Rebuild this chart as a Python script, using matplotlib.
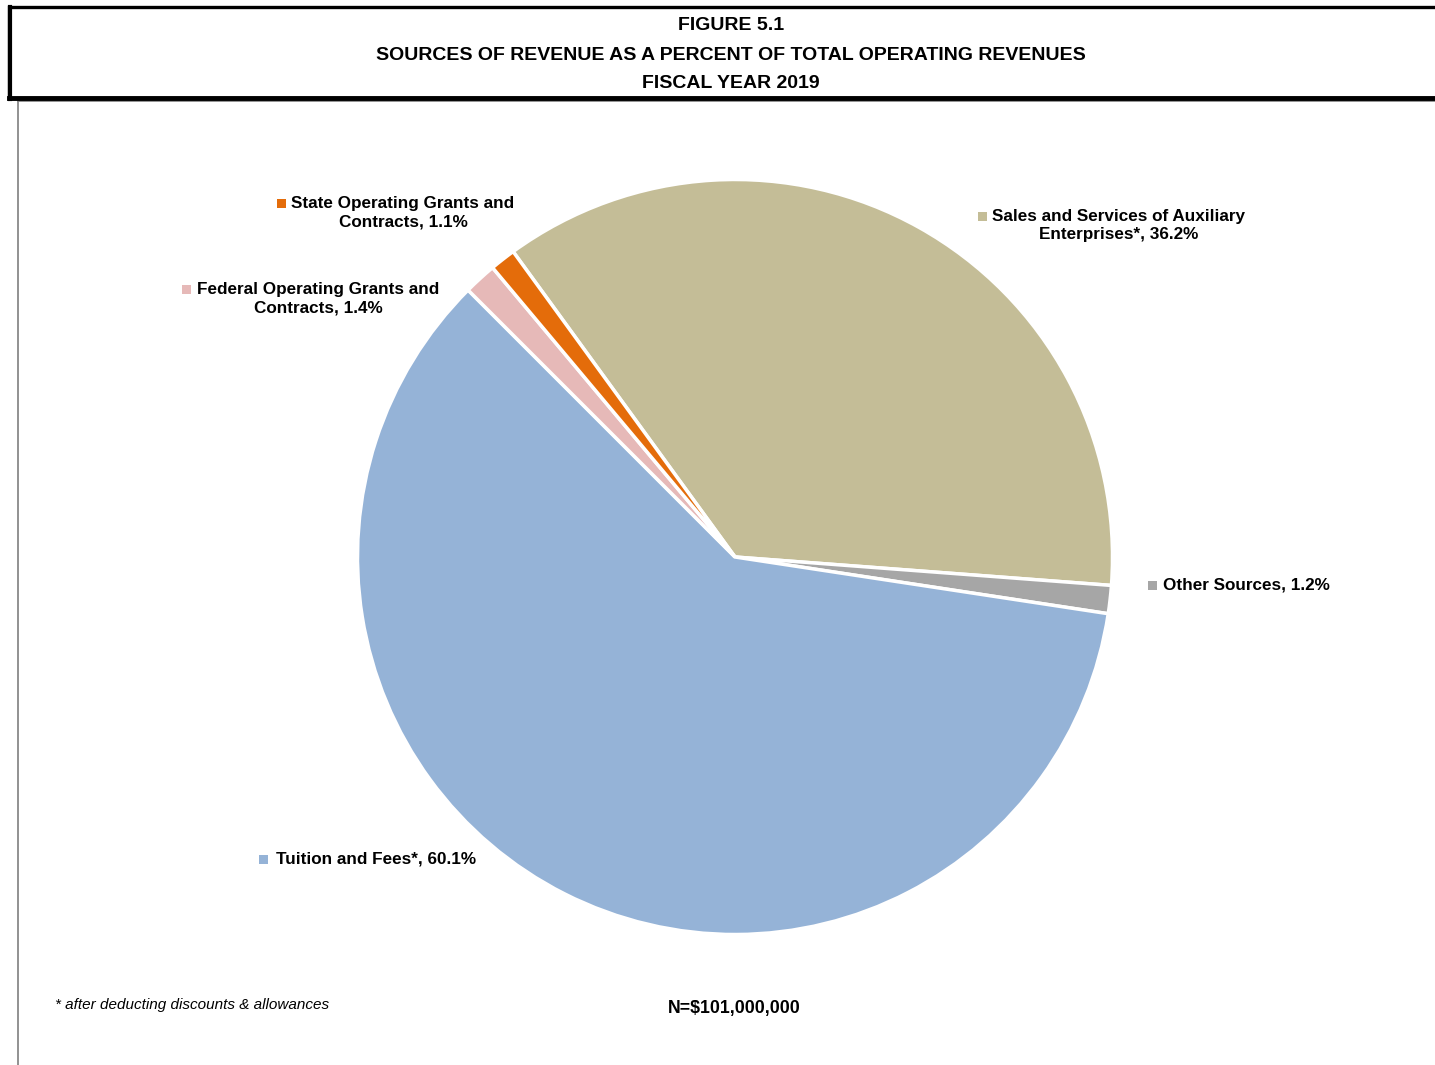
"""
Figure 5.1 - Sources of revenue as a percent of total operating revenues, FY2019
"""

import matplotlib
matplotlib.use('Agg')
import matplotlib.pyplot as plt
from matplotlib.patches import Rectangle

plt.rcParams['font.family'] = ['Liberation Sans', 'DejaVu Sans']

# Data (clockwise order, starting at the top-left edge of the Sales slice)
CATEGORIES = ['Sales and Services of Auxiliary\nEnterprises*',
              'Other Sources',
              'Tuition and Fees*',
              'Federal Operating Grants and\nContracts',
              'State Operating Grants and\nContracts']
PERCENTS = [36.2, 1.2, 60.1, 1.4, 1.1]
COLORS = ['#C4BD97', '#A6A6A6', '#95B3D7', '#E6B9B8', '#E46C0A']

TITLE_LINES = ['FIGURE 5.1',
               'SOURCES OF REVENUE AS A PERCENT OF TOTAL OPERATING REVENUES',
               'FISCAL YEAR 2019']
FOOTNOTE = '* after deducting discounts & allowances'
TOTAL_NOTE = 'N=$101,000,000'

# Layout (pixels)
W, H = 1435, 1065
CX, CY, R = 735, 557, 377.5
# label anchor (x, y, ha) and key square position
LABEL_POS = [(1119, 225.5, 'center', 982, 216),
             (1163, 585, 'left', 1152, 585),
             (276, 859, 'left', 263, 859),
             (318, 298.5, 'center', 186, 289),
             (403, 212.5, 'center', 281, 203)]


def main():
    fig = plt.figure(figsize=(W / 100, H / 100), dpi=100)

    # overlay in pixel coordinates for frames and text
    ov = fig.add_axes([0, 0, 1, 1])
    ov.set_xlim(0, W)
    ov.set_ylim(H, 0)
    ov.axis('off')

    # chart area frame
    ov.plot([18, 18], [101, H + 5], color='#7f7f7f', lw=1.2)
    ov.plot([18, W + 5], [101, 101], color='#7f7f7f', lw=1.2)

    # title box
    ov.add_patch(Rectangle((9, 7), W + 20, 91, facecolor='white',
                           edgecolor='black', lw=2.4))
    ov.plot([9, W + 5], [98, 98], color='black', lw=3.5)
    ov.plot([9.5, 9.5], [7, 99], color='black', lw=3.0)
    for y, line in zip([25, 55, 84], TITLE_LINES):
        ov.text(731, y, line, ha='center', va='center', fontsize=14,
                fontweight='bold')

    # pie
    ax = fig.add_axes([(CX - R) / W, 1 - (CY + R) / H, 2 * R / W, 2 * R / H])
    ax.pie(PERCENTS, colors=COLORS, startangle=126, counterclock=False,
           radius=1.0, wedgeprops=dict(edgecolor='white', linewidth=2.5))
    ax.set_xlim(-1.0, 1.0)
    ax.set_ylim(-1.0, 1.0)
    ax.axis('off')

    # data labels with legend keys
    for cat, pct, col, (tx, ty, ha, kx, ky) in zip(CATEGORIES, PERCENTS,
                                                   COLORS, LABEL_POS):
        ov.text(tx, ty, f'{cat}, {pct:.1f}%', ha=ha, va='center',
                multialignment='center', fontsize=12.3, fontweight='bold',
                linespacing=1.32)
        ov.add_patch(Rectangle((kx - 4.5, ky - 4.5), 9, 9, facecolor=col,
                               edgecolor='none'))

    ov.text(55, 1005, FOOTNOTE, ha='left', va='center', fontsize=11,
            style='italic')
    ov.text(734, 1008, TOTAL_NOTE, ha='center', va='center', fontsize=12.8,
            fontweight='bold')

    fig.savefig('out.png', dpi=100)


if __name__ == "__main__":
    main()
